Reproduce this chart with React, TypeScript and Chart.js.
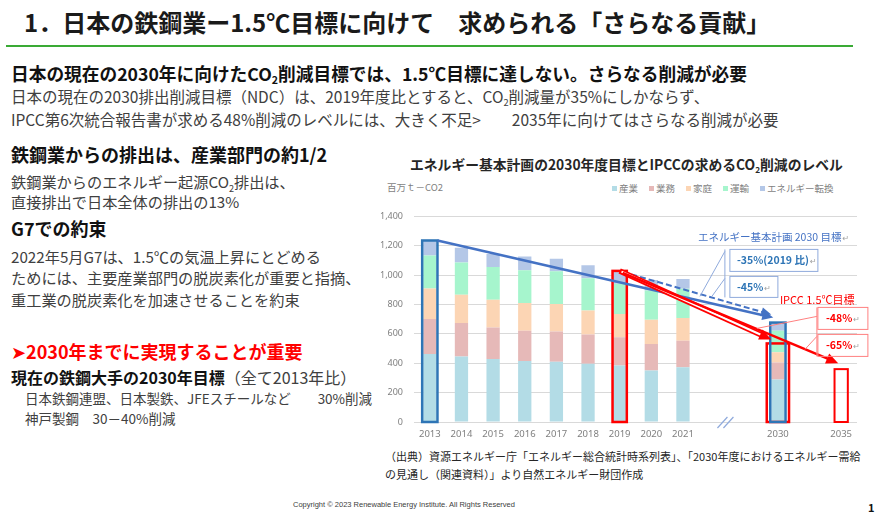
import React, { useEffect, useRef } from 'react';
import { Chart, registerables } from 'chart.js';
Chart.register(...registerables);

// ---------- data ----------
const years = ['2013', '2014', '2015', '2016', '2017', '2018', '2019', '2020', '2021', '', '', '2030', '', '2035'];
const sectorNames = ['産業', '業務', '家庭', '運輸', 'エネルギー転換'];
const industry = [463, 446, 429, 416, 411, 396, 384, 350, 372, null, null, 289, null, null];
const commercial = [238, 228, 215, 206, 205, 200, 193, 181, 181, null, null, 116, null, null];
const residential = [208, 192, 189, 189, 188, 164, 159, 166, 155, null, null, 70, null, null];
const transport = [224, 220, 222, 222, 223, 218, 206, 199, 199, null, null, 146, null, null];
const conversion = [103, 100, 89, 94, 84, 89, 87, 71, 66, null, null, 56, null, null];
const sectorColors = ['#b3dce6', '#e6b9b8', '#fcd5b4', '#a6f5cd', '#b4c7e7'];
const yMax = 1400;
const yStep = 200;
// IPCC 1.5℃ targets (boxes) for 2030 and 2035
const ipccYears = ['2030', '2035'];
const ipccValues = [535, 360];
const ndcLabels = ['-35%(2019 比)', '-45%'];
const ipccLabels = ['-48%', '-65%'];

const series = [industry, commercial, residential, transport, conversion];
const FONT = '"Noto Sans CJK JP", "Noto Sans", "DejaVu Sans", sans-serif';

const total = (i: number) => series.reduce((s, arr) => s + (arr[i] || 0), 0);

function drawArrow(ctx: CanvasRenderingContext2D, x1: number, y1: number, x2: number, y2: number,
  color: string, lw: number, head: number, opts: { dash?: number[]; double?: boolean } = {}) {
  const dx = x2 - x1, dy = y2 - y1;
  const len = Math.hypot(dx, dy);
  const ux = dx / len, uy = dy / len;
  const nx = -uy, ny = ux;
  const ex = x2 - ux * head * 0.85, ey = y2 - uy * head * 0.85;
  ctx.save();
  ctx.strokeStyle = color;
  ctx.lineCap = 'butt';
  if (opts.double) {
    ctx.lineWidth = 5.5;
    ctx.beginPath(); ctx.moveTo(x1, y1); ctx.lineTo(ex, ey); ctx.stroke();
    ctx.strokeStyle = '#ffffff';
    ctx.lineWidth = 2;
    ctx.beginPath(); ctx.moveTo(x1 + ux * 2, y1 + uy * 2); ctx.lineTo(ex, ey); ctx.stroke();
  } else {
    ctx.lineWidth = lw;
    if (opts.dash) ctx.setLineDash(opts.dash);
    ctx.beginPath(); ctx.moveTo(x1, y1); ctx.lineTo(ex, ey); ctx.stroke();
    ctx.setLineDash([]);
  }
  ctx.fillStyle = color;
  const hw = head * 0.45;
  ctx.beginPath();
  ctx.moveTo(x2, y2);
  ctx.lineTo(x2 - ux * head + nx * hw, y2 - uy * head + ny * hw);
  ctx.lineTo(x2 - ux * head - nx * hw, y2 - uy * head - ny * hw);
  ctx.closePath();
  ctx.fill();
  ctx.restore();
}

const annotPlugin = {
  id: 'annot',
  afterDatasetsDraw(chart: any) {
    const { ctx, chartArea } = chart;
    const x = chart.scales.x, y = chart.scales.y;
    const px = (i: number) => x.getPixelForValue(i);
    const py = (v: number) => y.getPixelForValue(v);
    const bw = chart.getDatasetMeta(0).data[0].width;
    const i13 = years.indexOf('2013');
    const i19 = years.indexOf('2019');
    const i30 = years.indexOf('2030');
    const i35 = years.indexOf('2035');
    const t13 = total(i13), t19 = total(i19), t30 = total(i30);
    const ip30 = ipccValues[ipccYears.indexOf('2030')];
    const ip35 = ipccValues[ipccYears.indexOf('2035')];
    const base = py(0);
    const BLUE = '#2e75b6', RED = '#ff0000', ABLUE = '#4472c4';

    ctx.save();
    // outline boxes
    ctx.lineWidth = 2.5;
    ctx.strokeStyle = BLUE;
    ctx.strokeRect(px(i13) - bw / 2 - 1, py(t13), bw + 2, base - py(t13));
    ctx.strokeStyle = RED;
    ctx.strokeRect(px(i19) - bw / 2 - 0.5, py(t19), bw + 1, base - py(t19));
    ctx.strokeRect(px(i30) - bw / 2 - 4.5, py(ip30), bw + 9, base - py(ip30));
    ctx.strokeStyle = BLUE;
    ctx.strokeRect(px(i30) - bw / 2 - 1, py(t30), bw + 2, base - py(t30));
    ctx.strokeStyle = RED;
    ctx.lineWidth = 2;
    ctx.strokeRect(px(i35) - bw / 2, py(ip35), bw, base - py(ip35));

    // axis break marks
    const bx = (px(i30 - 2) + px(i30 - 1)) / 2 - 5;
    ctx.strokeStyle = '#8faadc';
    ctx.lineWidth = 1.2;
    [-8, -2].forEach((o) => {
      ctx.beginPath();
      ctx.moveTo(bx + o, base + 6);
      ctx.lineTo(bx + o + 10, base - 5);
      ctx.stroke();
    });

    // arrows
    drawArrow(ctx, px(i13) + bw / 2 + 1, py(t13), px(i30) - bw / 2 + 2, py(t30) - 5, ABLUE, 2.5, 11);
    drawArrow(ctx, px(i19) + 3, py(t19) + 1, px(i30) - bw / 2, py(t30) - 8, ABLUE, 2, 10, { dash: [6, 3] });
    drawArrow(ctx, px(i19), py(t19), px(i30) - bw / 2, py(ip30) - 4, RED, 2, 12, { double: true });
    drawArrow(ctx, px(i19) + 3, py(t19) + 2, px(i35) - 3, py(ip35) - 6, RED, 2.5, 12);

    // annotation labels
    const X = px(i30), T = chartArea.top;
    ctx.textBaseline = 'middle';
    ctx.font = `10.5px ${FONT}`;
    ctx.fillStyle = ABLUE;
    ctx.fillText('エネルギー基本計画 2030 目標', X - 80, T + 21);
    let w = ctx.measureText('エネルギー基本計画 2030 目標').width;
    ctx.fillStyle = '#a0a0a0';
    ctx.font = `8px ${FONT}`;
    ctx.fillText('↵', X - 80 + w + 1, T + 22);

    // NDC boxes
    ctx.strokeStyle = '#8faadc';
    ctx.lineWidth = 1;
    ctx.strokeRect(X - 48, T + 33, 88, 22);
    ctx.strokeRect(X - 48, T + 60, 48, 21);
    ctx.beginPath();
    ctx.moveTo(X - 53, T + 33); ctx.lineTo(X - 53, T + 81);
    ctx.moveTo(X - 53, T + 35); ctx.lineTo(X - 78, T + 80);
    ctx.moveTo(X - 53, T + 62); ctx.lineTo(X - 66, T + 80);
    ctx.stroke();
    ctx.font = `bold 10.5px ${FONT}`;
    ctx.fillStyle = BLUE;
    ctx.fillText(ndcLabels[0], X - 41, T + 44);
    w = ctx.measureText(ndcLabels[0]).width;
    ctx.fillText(ndcLabels[1], X - 41, T + 70.5);
    const w2 = ctx.measureText(ndcLabels[1]).width;
    ctx.fillStyle = '#a0a0a0';
    ctx.font = `8px ${FONT}`;
    ctx.fillText('↵', X - 41 + w + 1, T + 45);
    ctx.fillText('↵', X - 41 + w2 + 1, T + 71.5);

    // IPCC
    ctx.font = `11px ${FONT}`;
    ctx.fillStyle = RED;
    ctx.fillText('IPCC 1.5℃目標', X + 2, T + 83);
    ctx.strokeStyle = '#ff8080';
    ctx.lineWidth = 1;
    ctx.strokeRect(X + 40, T + 91, 50, 22);
    ctx.strokeRect(X + 40, T + 118, 50, 22);
    ctx.beginPath();
    ctx.moveTo(X + 39, T + 91); ctx.lineTo(X + 39, T + 140);
    ctx.moveTo(X + 39, T + 100); ctx.lineTo(X - 21, T + 112);
    ctx.moveTo(X + 39, T + 120); ctx.lineTo(X + 27, T + 133);
    ctx.stroke();
    ctx.font = `bold 10.5px ${FONT}`;
    ctx.fillStyle = RED;
    ctx.fillText(ipccLabels[0], X + 48, T + 102);
    ctx.fillText(ipccLabels[1], X + 48, T + 129);
    const w3 = ctx.measureText(ipccLabels[0]).width;
    ctx.fillStyle = '#a0a0a0';
    ctx.font = `8px ${FONT}`;
    ctx.fillText('↵', X + 48 + w3 + 1, T + 103);
    ctx.fillText('↵', X + 48 + w3 + 1, T + 130);
    ctx.restore();
  },
};

function Txt(props: { x: number; y: number; size: number; bold?: boolean; color?: string; children: any }) {
  const { x, y, size, bold, color, children } = props;
  return (
    <div
      style={{
        position: 'absolute',
        left: x,
        top: y - size * 0.7,
        fontSize: size,
        lineHeight: `${size * 1.4}px`,
        fontWeight: bold ? 700 : 400,
        color: color || '#404040',
        whiteSpace: 'nowrap',
      }}
    >
      {children}
    </div>
  );
}

const Sub = (p: { children: any }) => (
  <span style={{ fontSize: '0.6em', position: 'relative', top: '0.35em', lineHeight: 0 }}>{p.children}</span>
);

export default function App() {
  const ref = useRef<HTMLCanvasElement>(null);
  useEffect(() => {
    document.body.style.margin = '0';
    const chart = new Chart(ref.current!, {
      type: 'bar',
      data: {
        labels: years,
        datasets: series.map((d, i) => ({
          label: sectorNames[i],
          data: d,
          backgroundColor: sectorColors[i],
          borderWidth: 0,
          categoryPercentage: 1,
          barPercentage: 0.42,
        })),
      },
      options: {
        responsive: false,
        maintainAspectRatio: false,
        animation: false,
        layout: { padding: { top: 12, right: 29, left: 0, bottom: 0 } },
        plugins: { legend: { display: false }, tooltip: { enabled: false }, title: { display: false } },
        scales: {
          x: {
            stacked: true,
            grid: { display: false, drawTicks: false },
            border: { display: false },
            ticks: {
              color: '#7f7f7f',
              font: { size: 9.5, family: '"Noto Sans", sans-serif' },
              padding: 7,
              autoSkip: false,
              maxRotation: 0,
            },
            afterFit: (s: any) => { s.height = 23; },
          },
          y: {
            stacked: true,
            min: 0,
            max: yMax,
            grid: { color: '#d9d9d9', drawTicks: false },
            border: { display: false },
            ticks: {
              stepSize: yStep,
              color: '#7f7f7f',
              font: { size: 9, family: '"Noto Sans", sans-serif' },
              padding: 11,
              callback: (v: any) => Number(v).toLocaleString('en-US'),
            },
            afterFit: (s: any) => { s.width = 44; },
          },
        },
      },
      plugins: [annotPlugin],
    } as any);
    return () => chart.destroy();
  }, []);

  return (
    <div
      style={{
        position: 'fixed',
        left: 0,
        top: 0,
        width: 886,
        height: 517,
        background: '#ffffff',
        fontFamily: FONT,
        overflow: 'hidden',
      }}
    >
      <Txt x={24} y={22} size={24} bold color="#1a1a1a">1．日本の鉄鋼業ー1.5℃目標に向けて　求められる「さらなる貢献」</Txt>
      <div style={{ position: 'absolute', left: 6, top: 45, width: 847, height: 2, background: '#3aaa35' }} />
      <Txt x={11} y={73} size={17.7} bold color="#111111">
        日本の現在の2030年に向けたCO<Sub>2</Sub>削減目標では、1.5℃目標に達しない。さらなる削減が必要
      </Txt>
      <Txt x={11} y={97} size={15.5}>
        日本の現在の2030排出削減目標（NDC）は、2019年度比とすると、CO<Sub>2</Sub>削減量が35%にしかならず、
      </Txt>
      <Txt x={11} y={120} size={15.5}>
        IPCC第6次統合報告書が求める48%削減のレベルには、大きく不足&gt;　　2035年に向けてはさらなる削減が必要
      </Txt>

      <Txt x={11} y={155} size={18} bold color="#111111">鉄鋼業からの排出は、産業部門の約1/2</Txt>
      <Txt x={11} y={182} size={15.2}>鉄鋼業からのエネルギー起源CO<Sub>2</Sub>排出は、</Txt>
      <Txt x={11} y={202} size={15.2}>直接排出で日本全体の排出の13%</Txt>
      <Txt x={11} y={229} size={18} bold color="#111111">G7での約束</Txt>
      <Txt x={11} y={257} size={15.2}>2022年5月G7は、1.5℃の気温上昇にとどめる</Txt>
      <Txt x={11} y={278} size={15.2}>ためには、主要産業部門の脱炭素化が重要と指摘、</Txt>
      <Txt x={11} y={300} size={15.2}>重工業の脱炭素化を加速させることを約束</Txt>
      <Txt x={11} y={352} size={18} bold color="#ff0000">➤2030年までに実現することが重要</Txt>
      <Txt x={11} y={377} size={16} color="#111111">
        <b>現在の鉄鋼大手の2030年目標</b><span style={{ color: '#404040' }}>（全て2013年比）</span>
      </Txt>
      <Txt x={25} y={398} size={13.5}>日本鉄鋼連盟、日本製鉄、JFEスチールなど　　30%削減</Txt>
      <Txt x={25} y={418} size={13.5}>神戸製鋼　30－40%削減</Txt>

      <Txt x={410} y={165} size={13.8} bold color="#262626">
        エネルギー基本計画の2030年度目標とIPCCの求めるCO<Sub>2</Sub>削減のレベル
      </Txt>
      <Txt x={387} y={188} size={9.5} color="#7f7f7f">百万ｔ－CO2</Txt>
      <div
        style={{
          position: 'absolute',
          left: 612,
          top: 181,
          display: 'flex',
          gap: 11,
          fontSize: 9.5,
          lineHeight: '14px',
          color: '#7f7f7f',
          whiteSpace: 'nowrap',
        }}
      >
        {sectorNames.map((n, i) => (
          <span key={n} style={{ display: 'flex', alignItems: 'center' }}>
            <span style={{ display: 'inline-block', width: 5, height: 5, background: sectorColors[i], marginRight: 2 }} />
            {n}
          </span>
        ))}
      </div>

      <canvas
        ref={ref}
        width={516}
        height={245}
        style={{ position: 'absolute', left: 370, top: 200, width: 516, height: 245 }}
      />

      <Txt x={385} y={457} size={11} color="#262626">
        （出典）資源エネルギー庁「エネルギー総合統計時系列表」、「2030年度におけるエネルギー需給
      </Txt>
      <Txt x={385} y={475} size={11} color="#262626">の見通し（関連資料）」より自然エネルギー財団作成</Txt>
      <div
        style={{
          position: 'absolute',
          left: 293,
          top: 500,
          fontSize: 7.5,
          lineHeight: '10px',
          color: '#404040',
          fontFamily: '"Liberation Sans", sans-serif',
          whiteSpace: 'nowrap',
        }}
      >
        Copyright © 2023 Renewable Energy Institute. All Rights Reserved
      </div>
      <Txt x={868} y={508} size={11} bold color="#111111">1</Txt>
    </div>
  );
}
